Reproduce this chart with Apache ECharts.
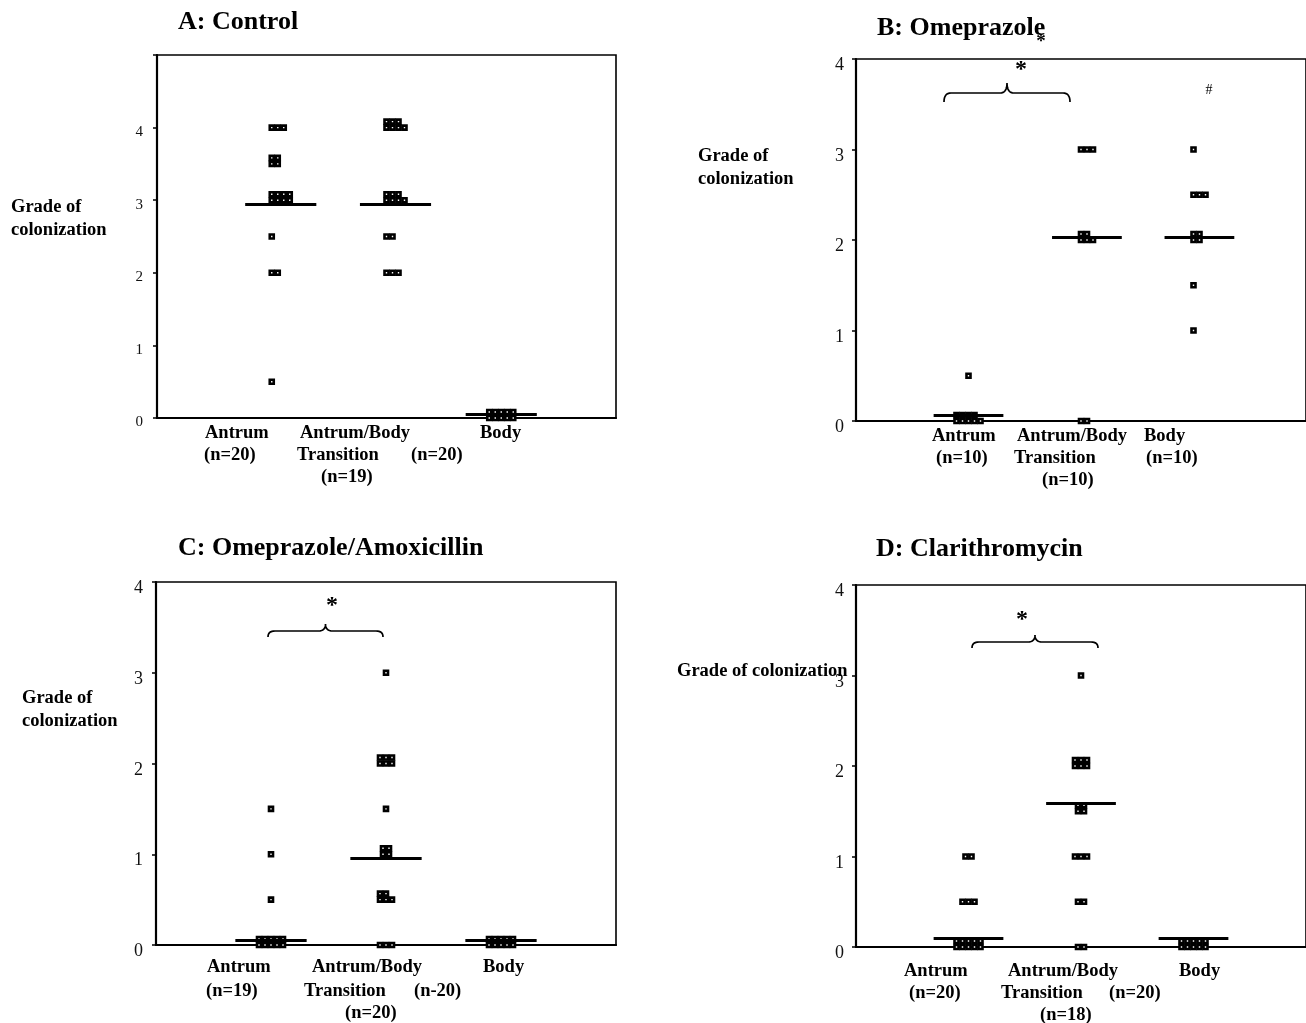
<!DOCTYPE html>
<html><head><meta charset="utf-8">
<script src="https://cdn.jsdelivr.net/npm/echarts@6/dist/echarts.min.js"></script>
<style>html,body{margin:0;padding:0;background:#fff}#c{width:1306px;height:1023px}</style>
</head><body><div id="c"></div>
<script>
// ---------------- DATA ----------------
const groups = ['Antrum', 'Antrum/Body Transition', 'Body'];
const yTickValues = [0, 1, 2, 3, 4];

// A: Control
const controlAntrum     = [4,4,4, 3.5,3.5,3.5,3.5, 3,3,3,3,3,3,3,3, 2.5, 2,2, 0.5];
const controlTransition = [4,4,4,4,4,4,4, 3,3,3,3,3,3,3, 2.5,2.5, 2,2,2];
const controlBody       = [0,0,0,0,0,0,0,0,0,0];
const controlMedians    = [2.95, 2.95, 0.05];

// B: Omeprazole
const omeAntrum     = [0.5, 0,0,0,0,0,0,0,0,0];
const omeTransition = [3,3,3, 2,2,2,2,2, 0,0];
const omeBody       = [3, 2.5,2.5,2.5, 2,2,2,2, 1.5, 1];
const omeMedians    = [0.06, 2.03, 2.03];

// C: Omeprazole/Amoxicillin
const omeAmoxAntrum     = [1.5, 1, 0.5, 0,0,0,0,0,0,0,0,0,0];
const omeAmoxTransition = [3, 2,2,2,2,2,2, 1.5, 1,1,1,1, 0.5,0.5,0.5,0.5,0.5, 0,0,0];
const omeAmoxBody       = [0,0,0,0,0,0,0,0,0,0];
const omeAmoxMedians    = [0.05, 0.96, 0.05];

// D: Clarithromycin
const clariAntrum     = [1,1, 0.5,0.5,0.5, 0,0,0,0,0,0,0,0,0,0];
const clariTransition = [3, 2,2,2,2,2,2, 1.5,1.5,1.5,1.5, 1,1,1, 0.5,0.5, 0,0];
const clariBody       = [0,0,0,0,0,0,0,0,0,0];
const clariMedians    = [0.1, 1.59, 0.1];

// ---------------- LAYOUT / STYLE ----------------
const SERIF = '"Liberation Serif","Times New Roman","DejaVu Serif",serif';
const STEP = 6;          // px between stacked squares
const HALF_LINE = 0.31;  // half width of median bar in x units
const X_MIN = 0, X_MAX = 4;

const panels = [
  { sets: [controlAntrum, controlTransition, controlBody], medians: controlMedians,
    grid: { left: 157, top: 55, width: 459, height: 363 }, yMax: 5, tickFont: 15, margin: 14, lh: 9,
    align: ['left', 'left', 'center'] },
  { sets: [omeAntrum, omeTransition, omeBody], medians: omeMedians,
    grid: { left: 856, top: 59, width: 456, height: 362 }, yMax: 4, tickFont: 18, margin: 12, lh: 13,
    align: ['center', 'left', 'left'] },
  { sets: [omeAmoxAntrum, omeAmoxTransition, omeAmoxBody], medians: omeAmoxMedians,
    grid: { left: 156, top: 582, width: 460, height: 363 }, yMax: 4, tickFont: 18, margin: 13, lh: 13,
    align: ['center', 'center', 'center'] },
  { sets: [clariAntrum, clariTransition, clariBody], medians: clariMedians,
    grid: { left: 856, top: 585, width: 456, height: 362 }, yMax: 4, tickFont: 18, margin: 12, lh: 13,
    align: ['center', 'center', 'center'] }
];

const grids = [], xAxes = [], yAxes = [], series = [];

panels.forEach((p, pi) => {
  grids.push(Object.assign({ show: true, borderColor: '#000', borderWidth: 1.6, backgroundColor: 'transparent' }, p.grid));
  xAxes.push({
    gridIndex: pi, type: 'value', min: X_MIN, max: X_MAX,
    axisLine: { show: true, onZero: false, lineStyle: { color: '#000', width: 2.2 } },
    axisTick: { show: false }, axisLabel: { show: false }, splitLine: { show: false }
  });
  yAxes.push({
    gridIndex: pi, type: 'value', min: 0, max: p.yMax, interval: 1,
    axisLine: { show: true, onZero: false, lineStyle: { color: '#000', width: 2.2 } },
    axisTick: { show: true, inside: false, length: 4, lineStyle: { color: '#000', width: 1.5 } },
    axisLabel: {
      fontFamily: SERIF, fontSize: p.tickFont, color: '#111', margin: p.margin,
      verticalAlign: 'top', lineHeight: p.lh,
      formatter: v => (yTickValues.indexOf(v) >= 0 ? String(v) : '')
    },
    splitLine: { show: false }
  });

  const unitsPerPx = (X_MAX - X_MIN) / p.grid.width;
  const data = [];
  const markData = [];
  p.sets.forEach((vals, gi) => {
    const pos = gi + 1;
    const counts = new Map();
    vals.forEach(v => counts.set(v, (counts.get(v) || 0) + 1));
    let maxCols = 1;
    counts.forEach((c, v) => {
      const cols = c <= 3 ? c : Math.ceil(c / 2);
      maxCols = Math.max(maxCols, cols);
      for (let k = 0; k < c; k++) {
        const row = Math.floor(k / cols), col = k % cols;
        const dx = p.align[gi] === 'left' ? col * STEP : (col - (cols - 1) / 2) * STEP;
        const dy = -row * STEP;
        data.push({ value: [pos, v], symbolOffset: [dx, dy] });
      }
    });
    const centerPx = p.align[gi] === 'left' ? (maxCols - 1) / 2 * STEP : 0;
    const c = pos + centerPx * unitsPerPx;
    const m = p.medians[gi];
    markData.push([{ coord: [c - HALF_LINE, m] }, { coord: [c + HALF_LINE, m] }]);
  });

  series.push({
    type: 'scatter', xAxisIndex: pi, yAxisIndex: pi, clip: false, silent: true,
    symbol: 'rect', symbolSize: 4,
    itemStyle: { color: '#fff', borderColor: '#000', borderWidth: 2.6, opacity: 1 },
    data: data,
    markLine: {
      silent: true, symbol: ['none', 'none'], label: { show: false },
      lineStyle: { color: '#000', width: 2.8, type: 'solid' },
      emphasis: { disabled: true },
      data: markData
    },
    z: 3
  });
});

// ---------------- TEXT & ANNOTATIONS ----------------
function txt(x, y, text, size, bold, align) {
  return {
    type: 'text', x: x, y: y, silent: true, z: 10,
    style: {
      text: text, fill: '#000', fontFamily: SERIF, fontSize: size,
      fontWeight: bold ? 'bold' : 'normal',
      align: align || 'left', verticalAlign: 'middle',
      textAlign: align || 'left', textVerticalAlign: 'middle'
    }
  };
}
function quad(pts, p0, c, p1) {
  for (let i = 1; i <= 8; i++) {
    const t = i / 8, u = 1 - t;
    pts.push([u * u * p0[0] + 2 * u * t * c[0] + t * t * p1[0], u * u * p0[1] + 2 * u * t * c[1] + t * t * p1[1]]);
  }
}
function brace(x0, x1, yEnd, yFlat, yPeak) {
  const m = (x0 + x1) / 2, r = 7;
  const pts = [[x0, yEnd]];
  quad(pts, [x0, yEnd], [x0, yFlat], [x0 + r, yFlat]);
  pts.push([m - r, yFlat]);
  quad(pts, [m - r, yFlat], [m, yFlat], [m, yPeak]);
  quad(pts, [m, yPeak], [m, yFlat], [m + r, yFlat]);
  pts.push([x1 - r, yFlat]);
  quad(pts, [x1 - r, yFlat], [x1, yFlat], [x1, yEnd]);
  return {
    type: 'polyline', silent: true, z: 10,
    shape: { points: pts },
    style: { stroke: '#000', lineWidth: 1.7, fill: null }
  };
}
const T = 26, L = 18.5, Y = 18.5;
const graphics = [
  // A
  txt(178, 22, 'A: Control', T, true),
  txt(11, 207, 'Grade of', Y, true), txt(11, 230, 'colonization', Y, true),
  txt(205, 433, 'Antrum', L, true), txt(204, 455, '(n=20)', L, true),
  txt(300, 433, 'Antrum/Body', L, true), txt(297, 455, 'Transition', L, true),
  txt(411, 455, '(n=20)', L, true), txt(321, 477, '(n=19)', L, true),
  txt(480, 433, 'Body', L, true),
  // B
  txt(877, 28, 'B: Omeprazole', T, true),
  txt(1041, 42, '*', 19, true, 'center'),
  txt(1021, 70, '*', 24, true, 'center'),
  txt(1209, 90, '#', 14, false, 'center'),
  brace(944, 1070, 102, 93, 83),
  txt(698, 156, 'Grade of', Y, true), txt(698, 179, 'colonization', Y, true),
  txt(932, 436, 'Antrum', L, true), txt(936, 458, '(n=10)', L, true),
  txt(1017, 436, 'Antrum/Body', L, true), txt(1014, 458, 'Transition', L, true),
  txt(1042, 480, '(n=10)', L, true),
  txt(1144, 436, 'Body', L, true), txt(1146, 458, '(n=10)', L, true),
  // C
  txt(178, 548, 'C: Omeprazole/Amoxicillin', T, true),
  txt(332, 606, '*', 24, true, 'center'),
  brace(268, 383, 637, 631, 624),
  txt(22, 698, 'Grade of', Y, true), txt(22, 721, 'colonization', Y, true),
  txt(207, 967, 'Antrum', L, true), txt(206, 991, '(n=19)', L, true),
  txt(312, 967, 'Antrum/Body', L, true), txt(304, 991, 'Transition', L, true),
  txt(414, 991, '(n-20)', L, true), txt(345, 1013, '(n=20)', L, true),
  txt(483, 967, 'Body', L, true),
  // D
  txt(876, 549, 'D: Clarithromycin', T, true),
  txt(1022, 620, '*', 24, true, 'center'),
  brace(972, 1098, 648, 642, 635),
  txt(677, 671, 'Grade of colonization', Y, true),
  txt(904, 971, 'Antrum', L, true), txt(909, 993, '(n=20)', L, true),
  txt(1008, 971, 'Antrum/Body', L, true), txt(1001, 993, 'Transition', L, true),
  txt(1109, 993, '(n=20)', L, true), txt(1040, 1015, '(n=18)', L, true),
  txt(1179, 971, 'Body', L, true)
];

const chart = echarts.init(document.getElementById('c'), null, { renderer: 'canvas' });
chart.setOption({
  animation: false,
  backgroundColor: '#fff',
  grid: grids, xAxis: xAxes, yAxis: yAxes, series: series,
  graphic: { elements: graphics }
});
</script>
</body></html>
